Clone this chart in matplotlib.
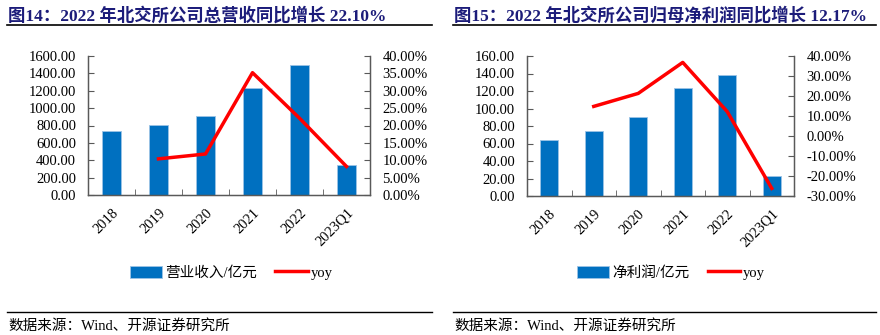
import numpy as np
import matplotlib
matplotlib.use('Agg')
import matplotlib.pyplot as plt
from matplotlib.lines import Line2D
from matplotlib.ticker import FuncFormatter

# data
cats = ['2018', '2019', '2020', '2021', '2022', '2023Q1']
revenue = [737, 806, 905, 1228, 1496, 345]          # 营业收入/亿元
revenue_yoy = [np.nan, 10.4, 11.8, 35.2, 22.10, 8.2]  # %
profit = [64.0, 74.3, 89.9, 123.0, 138.3, 22.9]      # 净利润/亿元
profit_yoy = [np.nan, 14.8, 21.3, 36.8, 12.17, -26.2]  # %

titles = ['图14：2022 年北交所公司总营收同比增长 22.10%',
          '图15：2022 年北交所公司归母净利润同比增长 12.17%']
bar_labels = ['营业收入/亿元', '净利润/亿元']
source = '数据来源：Wind、开源证券研究所'

SERIF = ['Liberation Serif', 'Noto Sans CJK SC']
plt.rcParams['font.family'] = SERIF
plt.rcParams['axes.unicode_minus'] = False

BLUE = '#0070C0'
RED = '#FF0000'
NAVY = '#1C1C7A'

W, H = 880, 335
fig = plt.figure(figsize=(W / 100, H / 100), dpi=100)


def px_axes(x0, y0, x1, y1):
    return fig.add_axes([x0 / W, 1 - y1 / H, (x1 - x0) / W, (y1 - y0) / H])


def draw_panel(box, bars, yoy, ylim, yticks, rlim, rticks, label, legend_x):
    ax = px_axes(*box)
    x = np.arange(len(cats))
    ax.bar(x, bars, width=0.4, color=BLUE, edgecolor='#9CC3E6', linewidth=0.6, zorder=2, label=label)
    ax.set_xlim(-0.5, len(cats) - 0.5)
    ax.set_ylim(*ylim)
    ax.set_yticks(yticks)
    ax.yaxis.set_major_formatter(FuncFormatter(lambda v, p: f'{v:.2f}'))
    ax.set_xticks(x)
    ax.set_xticklabels(cats, rotation=45, ha='right', rotation_mode='anchor', fontsize=10.5)
    ax.set_xticks(np.arange(len(cats) + 1) - 0.5, minor=True)
    ax.tick_params(axis='x', which='major', length=0, pad=8)
    ax.tick_params(axis='x', which='minor', direction='in', length=4, color='#595959')
    ax.tick_params(axis='y', direction='in', length=4, labelsize=10.5, color='#595959', pad=8.5)
    ax.spines['top'].set_visible(False)
    for s in ['left', 'right', 'bottom']:
        ax.spines[s].set_color('#595959')
        ax.spines[s].set_linewidth(1.0)

    ax2 = ax.twinx()
    ax2.plot(x, yoy, color=RED, lw=2.5, label='yoy', zorder=3)
    ax2.set_ylim(*rlim)
    ax2.set_yticks(rticks)
    ax2.yaxis.set_major_formatter(FuncFormatter(lambda v, p: f'{v:.2f}%'))
    ax2.tick_params(axis='y', direction='in', length=4, labelsize=10.5, color='#595959', pad=9)
    ax2.spines['top'].set_visible(False)
    for s in ['left', 'right', 'bottom']:
        ax2.spines[s].set_color('#595959')

    h1, l1 = ax.get_legend_handles_labels()
    h2, l2 = ax2.get_legend_handles_labels()
    fig.legend(h1 + h2, l1 + l2, loc='center', bbox_to_anchor=(legend_x / W, 1 - 273 / H),
               ncol=2, frameon=False, handlelength=2.2, handleheight=0.9,
               columnspacing=1.3, handletextpad=0.2,
               prop={'family': ['Liberation Serif', 'Noto Sans CJK SC'], 'size': 10.5})
    return ax


draw_panel((88, 56, 370, 195), revenue, revenue_yoy, (0, 1600), np.arange(0, 1601, 200),
           (0, 40), np.arange(0, 41, 5), bar_labels[0], 231)
draw_panel((527, 56, 794, 196), profit, profit_yoy, (0, 160), np.arange(0, 161, 20),
           (-30, 40), np.arange(-30, 41, 10), bar_labels[1], 671)

# titles, rules and source notes
for x0, x1, t in [(7, 432, titles[0]), (453, 876, titles[1])]:
    fig.text(x0 / W + 1 / W, 1 - 16 / H, t, ha='left', va='center', fontsize=12.5,
             fontweight='bold', color=NAVY, family=SERIF)
    fig.add_artist(Line2D([x0 / W, x1 / W], [1 - 25 / H] * 2, color='black', lw=1.2))
    fig.add_artist(Line2D([x0 / W, x1 / W], [1 - 312 / H] * 2, color='black', lw=1.0))
    fig.text(x0 / W + 1 / W, 1 - 326 / H, source, ha='left', va='center', fontsize=10.5,
             color='black', family=SERIF)

fig.savefig('out.png', dpi=100)
